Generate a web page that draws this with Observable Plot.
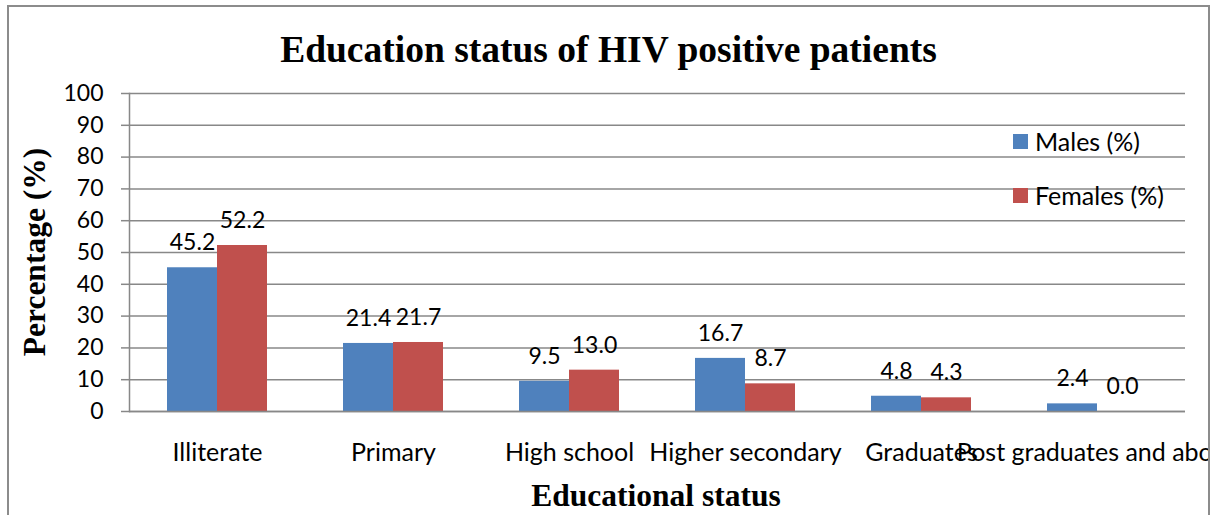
<!DOCTYPE html>
<html>
<head>
<meta charset="utf-8">
<script src="https://cdn.jsdelivr.net/npm/d3@7"></script>
<script src="https://cdn.jsdelivr.net/npm/@observablehq/plot@0.6"></script>
<style>
  html, body { margin: 0; padding: 0; background: #fff; }
  #frame { position: absolute; left: 7px; top: 5px; width: 1199px; height: 530px; border: 2px solid #8c8c8c; overflow: hidden; }
  #chart { position: absolute; left: 0; top: 0; }
  .serif { font-family: "Liberation Serif", "Times New Roman", serif; font-weight: bold; color: #000; position: absolute; white-space: nowrap; }
  #title { left: 0; width: 1199px; text-align: center; top: 24px; font-size: 37.5px; line-height: 37.5px; }
  #ytitle { left: 26px; top: 245px; font-size: 31.5px; line-height: 31.5px; transform: translate(-50%, -50%) rotate(-90deg); }
  #xtitle { left: 647px; top: 489px; font-size: 31.5px; line-height: 31.5px; transform: translate(-50%, -50%); }
  .leg { position: absolute; font-family: Lato, "Open Sans", sans-serif; font-size: 25px; line-height: 25px; display: flex; align-items: center; white-space: nowrap; color: #000; }
  .leg span.sw { display: inline-block; width: 15px; height: 15px; margin-right: 7px; }
</style>
</head>
<body>
<div id="frame">
  <div id="chart"></div>
  <div id="title" class="serif">Education status of HIV positive patients</div>
  <div id="ytitle" class="serif">Percentage (%)</div>
  <div id="xtitle" class="serif">Educational status</div>
  <div id="legend"></div>
</div>
<script>
const categories = ["Illiterate", "Primary", "High school", "Higher secondary", "Graduates", "Post graduates and above"];
const series = ["Males (%)", "Females (%)"];
const males = [45.2, 21.4, 9.5, 16.7, 4.8, 2.4];
const females = [52.2, 21.7, 13.0, 8.7, 4.3, 0.0];
const colors = ["#4F81BD", "#C0504D"];
const yTicks = [0, 10, 20, 30, 40, 50, 60, 70, 80, 90, 100];

const data = [];
categories.forEach((c, i) => {
  data.push({category: c, series: series[0], value: males[i]});
  data.push({category: c, series: series[1], value: females[i]});
});

const font = "Lato, 'Open Sans', sans-serif";
const gridColor = "#888888";

const chart = Plot.plot({
  width: 1199,
  height: 510,
  marginLeft: 117,
  marginRight: 21,
  marginTop: 86,
  marginBottom: 106,
  style: {fontFamily: font, fontSize: "23px", color: "#000", background: "transparent", overflow: "visible"},
  fx: {domain: categories, padding: 0, label: null},
  x: {domain: series, paddingInner: 0, paddingOuter: 0.733, axis: null},
  y: {domain: [0, 100], label: null},
  color: {domain: series, range: colors},
  marks: [
    Plot.gridY(yTicks, {stroke: gridColor, strokeOpacity: 1, strokeWidth: 1.5}),
    Plot.axisY(yTicks, {tickSize: 8, tickPadding: 18, stroke: gridColor, strokeWidth: 1.5, fontSize: 23, label: null, anchor: "left"}),
    Plot.axisFx({anchor: "bottom", tickSize: 0, tickPadding: 32, fontSize: 25, label: null}),
    Plot.frame({anchor: "left", facetAnchor: "left", stroke: gridColor, strokeWidth: 1.5}),
    Plot.barY(data, {fx: "category", x: "series", y: "value", fill: "series"}),
    Plot.ruleY([0], {stroke: gridColor, strokeWidth: 1.5}),
    Plot.text(data, {fx: "category", x: "series", y: "value", text: d => d.value.toFixed(1), dy: -25, fontSize: 23, fill: "#000"})
  ]
});
document.getElementById("chart").appendChild(chart);

const legend = document.getElementById("legend");
const legTops = [122, 176];
series.forEach((s, i) => {
  const d = document.createElement("div");
  d.className = "leg";
  d.style.left = "1004px";
  d.style.top = legTops[i] + "px";
  d.innerHTML = `<span class="sw" style="background:${colors[i]}"></span>${s}`;
  legend.appendChild(d);
});
</script>
</body>
</html>
